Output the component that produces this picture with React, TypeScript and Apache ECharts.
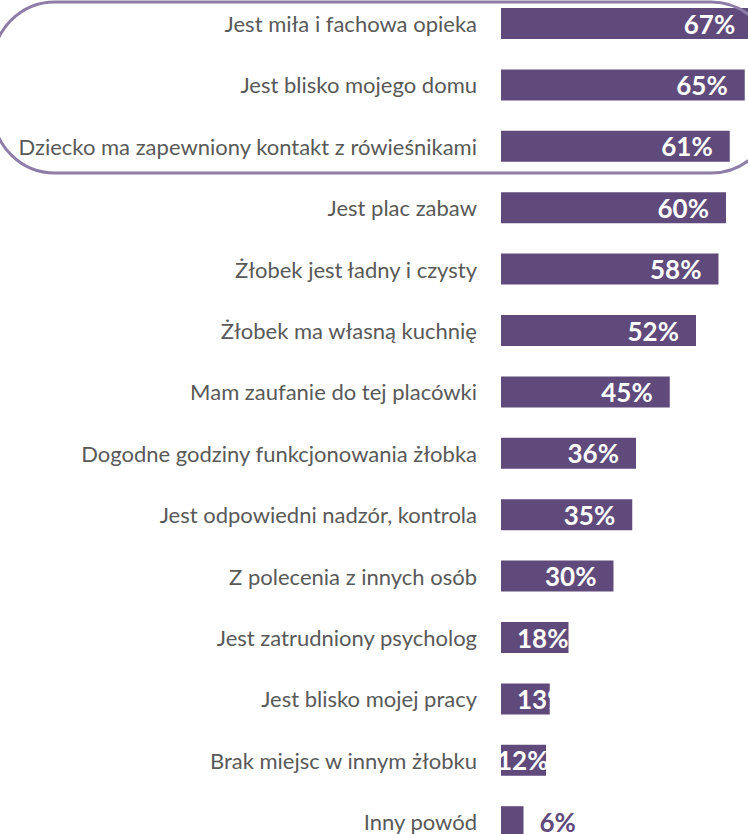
import React, { useEffect, useRef } from "react";
import * as echarts from "echarts";

const categories: string[] = [
  "Jest miła i fachowa opieka",
  "Jest blisko mojego domu",
  "Dziecko ma zapewniony kontakt z rówieśnikami",
  "Jest plac zabaw",
  "Żłobek jest ładny i czysty",
  "Żłobek ma własną kuchnię",
  "Mam zaufanie do tej placówki",
  "Dogodne godziny funkcjonowania żłobka",
  "Jest odpowiedni nadzór, kontrola",
  "Z polecenia z innych osób",
  "Jest zatrudniony psycholog",
  "Jest blisko mojej pracy",
  "Brak miejsc w innym żłobku",
  "Inny powód",
];

const values: number[] = [67, 65, 61, 60, 58, 52, 45, 36, 35, 30, 18, 13, 12, 6];

const BAR = "#604A7B";
const FONT = "Lato, 'Open Sans', sans-serif";

export default function App() {
  const ref = useRef<HTMLDivElement>(null);
  useEffect(() => {
    if (!ref.current) return;
    const chart = echarts.init(ref.current, undefined, { renderer: "svg" });
    const data = values.map((v) => {
      let label: any = {};
      if (v >= 20) {
        label = { position: "insideRight", distance: 17 };
      } else if (v >= 13) {
        label = { position: "insideLeft", distance: 16 };
      } else if (v >= 10) {
        label = { position: "insideLeft", distance: -4 };
      } else {
        label = { position: "right", distance: 16, color: BAR };
      }
      return { value: v, label };
    });
    chart.setOption({
      animation: false,
      backgroundColor: "#ffffff",
      grid: {
        left: 501,
        top: -7.2,
        width: 375,
        height: 859.6,
        containLabel: false,
        outerBoundsMode: "none",
      },
      xAxis: {
        type: "value",
        min: 0,
        max: 100,
        show: false,
      },
      yAxis: {
        type: "category",
        data: categories,
        inverse: true,
        axisLine: { show: false },
        axisTick: { show: false },
        splitLine: { show: false },
        axisLabel: {
          color: "#595959",
          fontFamily: FONT,
          fontSize: 22,
          margin: 24,
        },
      },
      series: [
        {
          type: "bar",
          data,
          barWidth: 31,
          itemStyle: { color: BAR },
          label: {
            show: true,
            formatter: "{c}%",
            color: "#ffffff",
            fontFamily: FONT,
            fontWeight: "bold",
            fontSize: 26,
          },
        },
      ],
      graphic: [
        {
          type: "rect",
          z: 10,
          shape: { x: -7, y: 2, width: 780, height: 171, r: 62 },
          style: { fill: "none", stroke: "#8E7DA8", lineWidth: 3 },
        },
      ],
    });
    return () => chart.dispose();
  }, []);
  return (
    <div
      ref={ref}
      style={{ position: "fixed", left: 0, top: 0, width: 748, height: 834 }}
    />
  );
}
